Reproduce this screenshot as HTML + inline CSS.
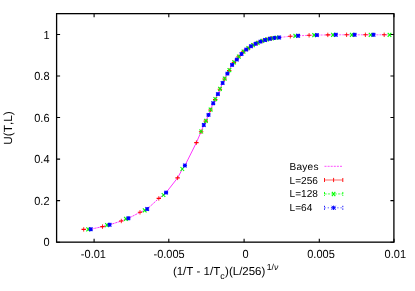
<!DOCTYPE html>
<html><head><meta charset="utf-8"><style>
html,body{margin:0;padding:0;background:#fff;}
svg{display:block;will-change:transform;}
text{font-family:"Liberation Sans",sans-serif;font-size:11px;fill:#000;font-kerning:none;text-rendering:geometricPrecision;}
</style></head><body>
<svg width="415" height="291" viewBox="0 0 415 291">
<rect width="415" height="291" fill="#fff"/>
<path d="M88.2,229.3 L90.7,229.2 L102.6,226.6 L107.3,225.0 L109.5,224.8 L121.4,221.0 L125.7,218.8 L128.1,218.5 L140.0,212.3 L144.4,210.4 L146.8,209.4 L158.7,198.5" fill="none" stroke="#ff00ff" stroke-width="0.8" stroke-dasharray="2.3 0.8"/>
<path d="M158.7,198.5 L164.0,194.6 L165.8,193.0 L177.8,177.6 L182.4,168.9 L184.8,165.8 L196.3,142.8 L201.0,131.9 L203.9,124.8 L206.1,120.5 L208.5,114.9 L210.8,109.2 L213.2,103.2 L215.4,99.0 L217.9,94.2 L219.8,89.4 L222.2,83.9 L224.4,79.3 L226.8,74.5 L229.2,70.6 L231.1,66.5 L233.0,63.4 L236.5,60.0 L238.6,56.8 L241.2,54.4 L243.6,51.5 L246.1,49.7 L248.0,48.4 L251.0,46.2" fill="none" stroke="#ff00ff" stroke-width="0.8"/>
<path d="M251.0,46.2 L255.8,43.7 L260.4,41.6 L265.3,39.9 L269.9,38.7 L274.7,37.9 L279.1,37.5 L290.4,36.3 L294.9,35.9 L298.1,35.8 L309.3,35.3 L313.6,35.1 L316.8,35.1 L327.6,34.9 L332.3,34.8 L335.8,34.8 L346.4,34.8 L351.4,34.8 L354.9,34.8 L365.3,34.8 L370.3,34.8 L373.6,34.8 L384.2,34.8 L389.9,34.8" fill="none" stroke="#ff00ff" stroke-width="0.65" stroke-dasharray="2 1.1"/>
<path d="M81.5,229.4h4.4M100.3,226.6h4.4M119.1,221.0h4.4M137.8,212.3h4.4M156.6,198.4h4.4M175.4,177.9h4.4M194.2,142.6h4.4M198.9,131.7h4.4M203.6,121.1h4.4M208.3,110.0h4.4M213.0,99.5h4.4M217.7,89.3h4.4M222.4,79.0h4.4M227.0,70.5h4.4M231.7,62.5h4.4M236.4,56.8h4.4M241.1,51.8h4.4M245.8,48.4h4.4M250.5,45.3h4.4M255.2,43.0h4.4M259.9,41.0h4.4M264.6,39.5h4.4M269.3,38.4h4.4M288.1,36.3h4.4M306.9,35.3h4.4M325.6,34.9h4.4M344.4,34.8h4.4M363.2,34.8h4.4M382.0,34.8h4.4" fill="none" stroke="#ff0000" stroke-width="1.1"/>
<path d="M83.7,227.2v4.4M102.5,224.4v4.4M121.3,218.8v4.4M140.0,210.1v4.4M158.8,196.2v4.4M177.6,175.7v4.4M196.4,140.4v4.4M201.1,129.5v4.4M205.8,118.9v4.4M210.5,107.8v4.4M215.2,97.3v4.4M219.9,87.1v4.4M224.6,76.8v4.4M229.2,68.3v4.4M233.9,60.3v4.4M238.6,54.6v4.4M243.3,49.6v4.4M248.0,46.2v4.4M252.7,43.1v4.4M257.4,40.8v4.4M262.1,38.8v4.4M266.8,37.3v4.4M271.5,36.2v4.4M290.3,34.1v4.4M309.1,33.1v4.4M327.8,32.7v4.4M346.6,32.6v4.4M365.4,32.6v4.4M384.2,32.6v4.4" fill="none" stroke="#ff0000" stroke-width="0.85"/>
<path d="M86.4,227.3l3.6,4.0M86.4,231.3l3.6,-4.0M105.2,223.1l3.6,4.0M105.2,227.1l3.6,-4.0M124.1,216.8l3.6,4.0M124.1,220.8l3.6,-4.0M142.9,208.3l3.6,4.0M142.9,212.3l3.6,-4.0M161.7,193.0l3.6,4.0M161.7,197.0l3.6,-4.0M180.5,167.0l3.6,4.0M180.5,171.0l3.6,-4.0M199.4,129.5l3.6,4.0M199.4,133.5l3.6,-4.0M204.1,118.9l3.6,4.0M204.1,122.9l3.6,-4.0M208.8,107.7l3.6,4.0M208.8,111.7l3.6,-4.0M213.5,97.2l3.6,4.0M213.5,101.2l3.6,-4.0M218.2,86.9l3.6,4.0M218.2,90.9l3.6,-4.0M222.9,76.7l3.6,4.0M222.9,80.7l3.6,-4.0M227.6,68.1l3.6,4.0M227.6,72.1l3.6,-4.0M232.3,60.3l3.6,4.0M232.3,64.3l3.6,-4.0M237.0,54.6l3.6,4.0M237.0,58.6l3.6,-4.0M241.7,49.6l3.6,4.0M241.7,53.6l3.6,-4.0M246.5,46.2l3.6,4.0M246.5,50.2l3.6,-4.0M251.2,43.2l3.6,4.0M251.2,47.2l3.6,-4.0M255.9,40.8l3.6,4.0M255.9,44.8l3.6,-4.0M260.6,38.9l3.6,4.0M260.6,42.9l3.6,-4.0M265.3,37.4l3.6,4.0M265.3,41.4l3.6,-4.0M270.0,36.4l3.6,4.0M270.0,40.4l3.6,-4.0M274.7,35.7l3.6,4.0M274.7,39.7l3.6,-4.0M293.5,33.9l3.6,4.0M293.5,37.9l3.6,-4.0M312.4,33.1l3.6,4.0M312.4,37.1l3.6,-4.0M331.2,32.8l3.6,4.0M331.2,36.8l3.6,-4.0M350.0,32.8l3.6,4.0M350.0,36.8l3.6,-4.0M368.8,32.8l3.6,4.0M368.8,36.8l3.6,-4.0M387.7,32.8l3.6,4.0M387.7,36.8l3.6,-4.0" fill="none" stroke="#00ff00" stroke-width="1.1"/>
<path d="M88.9,227.4l3.6,3.6M88.9,231.0l3.6,-3.6M88.7,229.2h4M90.7,227.2v4M107.8,223.0l3.6,3.6M107.8,226.6l3.6,-3.6M107.6,224.8h4M109.6,222.8v4M126.6,216.5l3.6,3.6M126.6,220.1l3.6,-3.6M126.4,218.3h4M128.4,216.3v4M145.4,207.2l3.6,3.6M145.4,210.8l3.6,-3.6M145.2,209.0h4M147.2,207.0v4M164.3,190.8l3.6,3.6M164.3,194.4l3.6,-3.6M164.1,192.6h4M166.1,190.6v4M183.1,163.7l3.6,3.6M183.1,167.3l3.6,-3.6M182.9,165.5h4M184.9,163.5v4M202.0,123.2l3.6,3.6M202.0,126.8l3.6,-3.6M201.8,125.0h4M203.8,123.0v4M206.7,113.1l3.6,3.6M206.7,116.7l3.6,-3.6M206.5,114.9h4M208.5,112.9v4M211.4,101.4l3.6,3.6M211.4,105.0l3.6,-3.6M211.2,103.2h4M213.2,101.2v4M216.1,92.3l3.6,3.6M216.1,95.9l3.6,-3.6M215.9,94.1h4M217.9,92.1v4M220.8,81.2l3.6,3.6M220.8,84.8l3.6,-3.6M220.7,83.0h4M222.7,81.0v4M225.6,71.8l3.6,3.6M225.6,75.4l3.6,-3.6M225.4,73.6h4M227.4,71.6v4M230.3,63.1l3.6,3.6M230.3,66.7l3.6,-3.6M230.1,64.9h4M232.1,62.9v4M235.0,57.8l3.6,3.6M235.0,61.4l3.6,-3.6M234.8,59.6h4M236.8,57.6v4M239.7,52.2l3.6,3.6M239.7,55.8l3.6,-3.6M239.5,54.0h4M241.5,52.0v4M244.4,47.8l3.6,3.6M244.4,51.4l3.6,-3.6M244.2,49.6h4M246.2,47.6v4M249.1,44.5l3.6,3.6M249.1,48.1l3.6,-3.6M248.9,46.3h4M250.9,44.3v4M253.8,42.0l3.6,3.6M253.8,45.6l3.6,-3.6M253.6,43.8h4M255.6,41.8v4M258.6,39.8l3.6,3.6M258.6,43.4l3.6,-3.6M258.4,41.6h4M260.4,39.6v4M263.3,38.2l3.6,3.6M263.3,41.8l3.6,-3.6M263.1,40.0h4M265.1,38.0v4M268.0,36.9l3.6,3.6M268.0,40.5l3.6,-3.6M267.8,38.7h4M269.8,36.7v4M272.7,36.1l3.6,3.6M272.7,39.7l3.6,-3.6M272.5,37.9h4M274.5,35.9v4M277.4,35.7l3.6,3.6M277.4,39.3l3.6,-3.6M277.2,37.5h4M279.2,35.5v4M296.3,34.0l3.6,3.6M296.3,37.6l3.6,-3.6M296.1,35.8h4M298.1,33.8v4M315.1,33.3l3.6,3.6M315.1,36.9l3.6,-3.6M314.9,35.1h4M316.9,33.1v4M334.0,33.0l3.6,3.6M334.0,36.6l3.6,-3.6M333.8,34.8h4M335.8,32.8v4M352.8,33.0l3.6,3.6M352.8,36.6l3.6,-3.6M352.6,34.8h4M354.6,32.8v4M371.7,33.0l3.6,3.6M371.7,36.6l3.6,-3.6M371.5,34.8h4M373.5,32.8v4" fill="none" stroke="#0000ff" stroke-width="1.1"/>
<rect x="56.6" y="13.65" width="337.3" height="228.5" fill="none" stroke="#000" stroke-width="1.3"/>
<path d="M94.1,242.15v-3.5M94.1,13.65v3.5M168.8,242.15v-3.5M168.8,13.65v3.5M244.1,242.15v-3.5M244.1,13.65v3.5M319.3,242.15v-3.5M319.3,13.65v3.5M394.0,242.15v-3.5M394.0,13.65v3.5M56.6,242.2h3.5M393.95,242.2h-3.5M56.6,200.6h3.5M393.95,200.6h-3.5M56.6,159.1h3.5M393.95,159.1h-3.5M56.6,117.5h3.5M393.95,117.5h-3.5M56.6,76.0h3.5M393.95,76.0h-3.5M56.6,34.5h3.5M393.95,34.5h-3.5" stroke="#000" stroke-width="1.1" fill="none"/>
<text transform="translate(93.4,257.8) scale(1,1.07)" text-anchor="middle">-0.01</text>
<text transform="translate(169.1,257.8) scale(1,1.07)" text-anchor="middle">-0.005</text>
<text transform="translate(245.6,257.8) scale(1,1.07)" text-anchor="middle">0</text>
<text transform="translate(321.0,257.8) scale(1,1.07)" text-anchor="middle">0.005</text>
<text transform="translate(395.3,257.8) scale(1,1.07)" text-anchor="middle">0.01</text>
<text transform="translate(49.5,246.3) scale(1,1.07)" text-anchor="end">0</text>
<text transform="translate(49.5,204.8) scale(1,1.07)" text-anchor="end">0.2</text>
<text transform="translate(49.5,163.3) scale(1,1.07)" text-anchor="end">0.4</text>
<text transform="translate(49.5,121.7) scale(1,1.07)" text-anchor="end">0.6</text>
<text transform="translate(49.5,80.2) scale(1,1.07)" text-anchor="end">0.8</text>
<text transform="translate(49.5,38.7) scale(1,1.07)" text-anchor="end">1</text>
<text transform="translate(12.1,128) rotate(-90)" text-anchor="middle" style="font-size:11.8px">U(T,L)</text>
<text x="172.9" y="274.6" style="font-size:11.5px">(1/T - 1/T<tspan style="font-size:9px" dy="4.3">c</tspan><tspan dy="-4.3" dx="0.4">)(L/256)</tspan><tspan style="font-size:8.6px" dy="-4.8" dx="1.4">1/<tspan font-style="italic">ν</tspan></tspan></text>
<g font-size="10.1"><text x="289.6" y="169.6" style="font-size:10.1px;letter-spacing:0.2px">Bayes</text>
<text x="289.6" y="183.5" style="font-size:10.1px">L=256</text>
<text x="289.6" y="197.2" style="font-size:10.1px">L=128</text>
<text x="289.6" y="210.9" style="font-size:10.1px">L=64</text></g>
<path d="M324.5,166.3H342.8" stroke="#ff00ff" stroke-width="0.7" stroke-dasharray="2 1.1" fill="none"/>
<path d="M324.5,180H342.8" stroke="#ff0000" stroke-width="0.6" fill="none"/>
<path d="M324.5,178v4M342.8,178v4M333.6,177.9v4.2" stroke="#ff0000" stroke-width="0.9" fill="none"/>
<path d="M324.5,193.95H342.8" stroke="#00ff00" stroke-width="0.7" stroke-dasharray="2.2 1.2" fill="none"/>
<path d="M324.5,191.95v4M342.8,191.95v4" stroke="#00ff00" stroke-width="0.9" stroke-dasharray="2.2 0.8" fill="none"/>
<path d="M331.9,191.8l3.4,4.3M331.9,196.1l3.4,-4.3" stroke="#00ff00" stroke-width="1.1" fill="none"/>
<path d="M324.5,207.8H342.8" stroke="#0000ff" stroke-width="0.7" stroke-dasharray="1.2 2" fill="none"/>
<path d="M324.5,205.8v4M342.8,205.8v4" stroke="#0000ff" stroke-width="0.9" stroke-dasharray="1.4 1.2" fill="none"/>
<path d="M331.6,205.8l4,4M331.6,209.8l4,-4M331.4,207.8h4.4M333.6,205.6v4.4" stroke="#0000ff" stroke-width="1" fill="none"/>
</svg>
</body></html>
